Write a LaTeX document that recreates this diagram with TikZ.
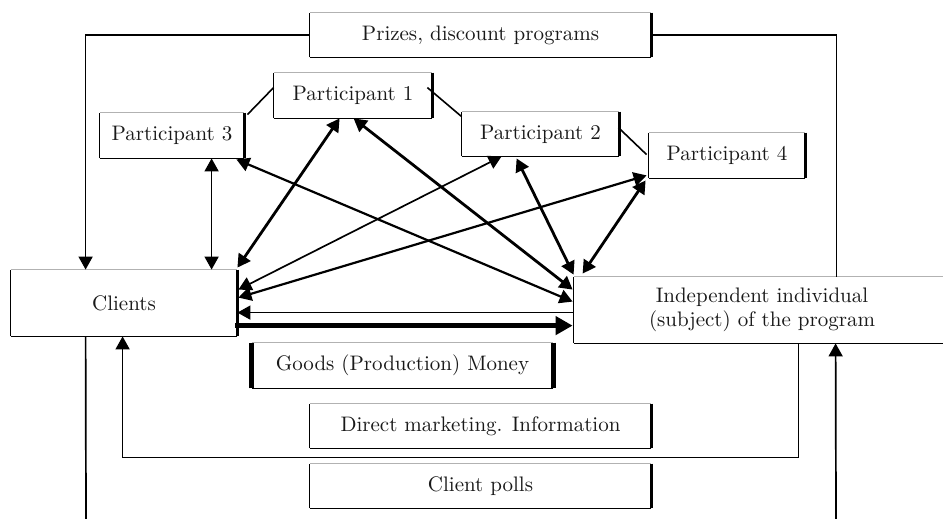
\documentclass[tikz,border=0pt]{standalone}
\usetikzlibrary{arrows.meta,calc}
\newcommand\boxedges[3]{%
  \draw[black!30, line width=0.6pt] (#1.north west) -- (#1.north east);
  \draw[line width=#3] (#1.north east) -- (#1.south east);
  \draw[line width=0.8pt] (#1.south east) -- (#1.south west);
  \draw[line width=#2] (#1.south west) -- (#1.north west);}
\begin{document}
\begin{tikzpicture}[x=0.5pt,y=-0.5pt,
  box/.style={inner sep=0pt, font=\fontsize{10.5}{12}\selectfont, align=center, text=black!90},
  tip/.style={-{Triangle[length=6.5pt,width=7pt]}},
  dtip/.style={{Triangle[length=6.5pt,width=7pt]}-{Triangle[length=6.5pt,width=7pt]}},
  bigtip/.style={-{Triangle[length=8.5pt,width=9pt]}},
  lthin/.style={line width=0.85pt},
  lmed/.style={line width=1.1pt},
  lthick/.style={line width=1.4pt},
  lheavy/.style={line width=2.2pt},
  link/.style={line width=0.8pt}]
\useasboundingbox (0,0) rectangle (943,519);

% boxes
\node[box, minimum width=170.5pt, minimum height=22pt] (prizes) at (480.5,35) {Prizes, discount programs};
\node[box, minimum width=79pt, minimum height=22.5pt] (p1) at (353,95.5) {Participant 1};
\node[box, minimum width=72pt, minimum height=22.5pt] (p3) at (172,135.5) {Participant 3};
\node[box, minimum width=78.5pt, minimum height=22pt] (p2) at (540.5,134) {Participant 2};
\node[box, minimum width=78pt, minimum height=22.5pt] (p4) at (727,155.5) {Participant 4};
\node[box, minimum width=113pt, minimum height=33pt] (clients) at (124,303) {Clients};
\node[box, minimum width=188pt, minimum height=33pt] (indep) at (762,310) {Independent individual\\(subject) of the program};
\node[box, minimum width=150.5pt, minimum height=22.5pt] (goods) at (402.5,365.5) {Goods (Production) Money};
\node[box, minimum width=170.5pt, minimum height=22pt] (direct) at (480.5,426) {Direct marketing. Information};
\node[box, minimum width=170.5pt, minimum height=22pt] (polls) at (480.5,486) {Client polls};

\boxedges{prizes}{0.8pt}{1.1pt}
\boxedges{p1}{0.8pt}{1.1pt}
\boxedges{p3}{0.8pt}{1.1pt}
\boxedges{p2}{0.8pt}{1.1pt}
\boxedges{p4}{0.8pt}{1.1pt}
\boxedges{clients}{0.8pt}{1.1pt}
\boxedges{indep}{0.8pt}{0.8pt}
\boxedges{goods}{2.2pt}{2.2pt}
\boxedges{direct}{0.8pt}{1.1pt}
\boxedges{polls}{0.8pt}{1.1pt}

% links between participants
\draw[link] ($(p3.north east)+(3,2)$) -- ($(p1.north west)+(0,15)$);
\draw[link] ($(p1.north east)+(-5,15)$) -- ($(p2.north west)+(0,5)$);
\draw[link] ($(p2.north east)+(-1,16)$) -- ($(p4.north west)+(-2,22)$);

% prizes loop
\draw[lthin, tip] (prizes.west) -| ($(clients.north west)+(75,0)$);
\draw[lthin] ($(indep.north west)+(263,0)$) |- (prizes.east);

% bottom lines
\coordinate (bl) at (86,519);
\coordinate (br) at (836,519);
\draw[lthin] ($(clients.south west)+(75,0)$) -- (bl);
\draw[lthin, tip] (br) -- ($(indep.south west)+(262,0)$);

% direct marketing loop
\draw[lthin, tip] ($(indep.south west)+(225,0)$) -- ++(0,114) -| ($(clients.south west)+(112,0)$);

% horizontal arrows
\draw[lthin, tip] ($(indep.north west)+(0,36)$) -- ($(clients.north east)+(0,43)$);
\draw[lheavy, bigtip] ($(clients.north east)+(-2,56)$) -- ($(indep.north west)+(-1,49)$);

% participant 3 - clients
\draw[lthin, dtip] ($(p3.south west)+(112,0)$) -- ($(clients.north west)+(201,0)$);

% diagonals
\draw[lthick, dtip] ($(clients.north east)+(0,-2)$) -- ($(p1.south west)+(66,0)$);
\draw[lthick, dtip] ($(indep.north west)+(-1,13)$) -- ($(p1.south west)+(80,0)$);
\draw[lmed, dtip] ($(p3.south east)+(-8,1)$) -- ($(indep.north west)+(-1,25)$);
\draw[lthin, dtip] ($(clients.north east)+(1,20)$) -- ($(p2.south west)+(40,0)$);
\draw[lmed, dtip] ($(clients.north east)+(1,28)$) -- ($(p4.south west)+(-2,-3)$);
\draw[lthick, dtip] ($(p2.south west)+(55,2)$) -- ($(indep.north west)+(0,-2)$);
\draw[lthick, dtip] ($(p4.south west)+(-3,2)$) -- ($(indep.north west)+(9,-3)$);
\end{tikzpicture}
\end{document}
